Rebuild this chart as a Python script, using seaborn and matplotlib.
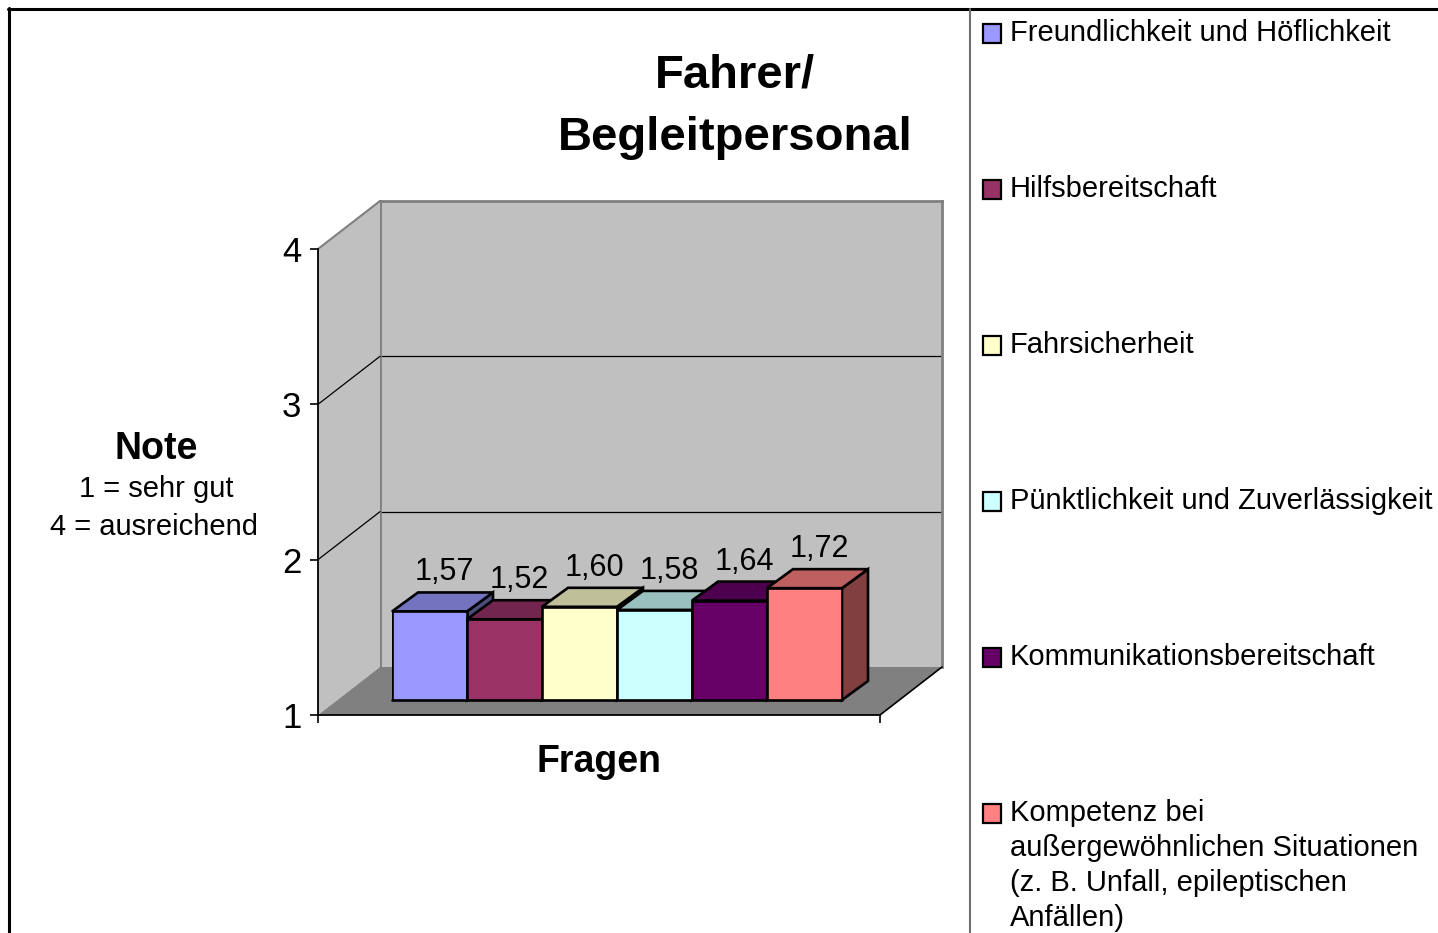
import numpy as np
import pandas as pd
import seaborn as sns
import matplotlib.pyplot as plt
from matplotlib.patches import Polygon, Rectangle
from matplotlib.lines import Line2D
from matplotlib.colors import to_rgb

# data
categories = [
    "Freundlichkeit und Höflichkeit",
    "Hilfsbereitschaft",
    "Fahrsicherheit",
    "Pünktlichkeit und Zuverlässigkeit",
    "Kommunikationsbereitschaft",
    "Kompetenz bei\naußergewöhnlichen Situationen\n(z. B. Unfall, epileptischen\nAnfällen)",
]
grades = [1.57, 1.52, 1.60, 1.58, 1.64, 1.72]
bar_colors = ["#9999FF", "#993366", "#FFFFCC", "#CCFFFF", "#660066", "#FF8080"]
y_ticks = [1, 2, 3, 4]
title_lines = ["Fahrer/", "Begleitpersonal"]
y_title = "Note"
y_notes = ["1 = sehr gut", "4 = ausreichend"]
x_title = "Fragen"

W, H = 1438, 933


def fx(px):
    return px / W


def fy(py):
    return 1 - py / H


def rect(left, top, right, bottom):
    return [fx(left), fy(bottom), (right - left) / W, (bottom - top) / H]


def shade(color, k):
    return tuple(c * k for c in to_rgb(color))


sns.set_style("white")
plt.rcParams["font.family"] = ["Liberation Sans", "DejaVu Sans"]
plt.rcParams["text.color"] = "black"
plt.rcParams["xtick.color"] = "black"
plt.rcParams["ytick.color"] = "black"
plt.rcParams["axes.labelcolor"] = "black"

fig = plt.figure(figsize=(W / 100, H / 100), dpi=100)

# back wall of the 3d box
ax_back = fig.add_axes(rect(380, 201, 942, 667))
ax_back.set_facecolor("#C0C0C0")
ax_back.set_xlim(0, 1)
ax_back.set_ylim(y_ticks[0], y_ticks[-1])
ax_back.set_xticks([])
ax_back.set_yticks(y_ticks[1:-1])
ax_back.tick_params(left=False, labelleft=False)
ax_back.yaxis.grid(True, color="black", lw=0.9)
for name, s in ax_back.spines.items():
    s.set_color("#808080")
    s.set_linewidth(2)
ax_back.spines["bottom"].set_visible(False)

# front plane with the value axis
ax_front = fig.add_axes(rect(318, 249, 880, 715))
ax_front.patch.set_visible(False)
ax_front.set_xlim(0, 1)
ax_front.set_ylim(y_ticks[0], y_ticks[-1])
ax_front.set_yticks(y_ticks)
ax_front.set_yticklabels([str(t) for t in y_ticks], fontsize=25, color="black")
ax_front.set_xticks([0, 1])
ax_front.set_xticklabels([])
ax_front.tick_params(left=True, bottom=True, direction="out", length=6,
                     width=1.2, color="black", pad=6)
ax_front.spines["top"].set_visible(False)
ax_front.spines["right"].set_visible(False)
for s in ("left", "bottom"):
    ax_front.spines[s].set_color("black")
    ax_front.spines[s].set_linewidth(1.3)

inv_front = ax_front.transData.inverted()


def fpt(x, v):
    return ax_front.transData.transform((x, v))


def bpt(x, v):
    return ax_back.transData.transform((x, v))


lo, hi = y_ticks[0], y_ticks[-1]
side = [fpt(0, hi), bpt(0, hi), bpt(0, lo), fpt(0, lo)]
ax_front.add_patch(Polygon(inv_front.transform(side), closed=True,
                           fc="#C0C0C0", ec="none", clip_on=False, zorder=1))
floor = [fpt(0, lo), bpt(0, lo), bpt(1, lo), fpt(1, lo)]
ax_front.add_patch(Polygon(inv_front.transform(floor), closed=True,
                           fc="#808080", ec="none", clip_on=False, zorder=1))
for v in y_ticks[1:]:
    pts = inv_front.transform([fpt(0, v), bpt(0, v)])
    ax_front.add_line(Line2D(pts[:, 0], pts[:, 1], clip_on=False, zorder=2,
                             color="black" if v < hi else "#808080",
                             lw=0.9 if v < hi else 1.5))
pts = inv_front.transform([fpt(1, lo), bpt(1, lo)])
ax_front.add_line(Line2D(pts[:, 0], pts[:, 1], color="black", lw=1.2,
                         clip_on=False, zorder=2))

# bars, sitting a little behind the front plane
ax_bars = fig.add_axes(rect(392, 234, 842, 700))
ax_bars.patch.set_visible(False)
df = pd.DataFrame({"Frage": categories, "Note": grades})
sns.barplot(data=df, x="Frage", y="Note", hue="Frage", palette=bar_colors,
            saturation=1, width=1.0, edgecolor="black", linewidth=1.9,
            legend=False, ax=ax_bars)
ax_bars.set_xlim(-0.5, len(categories) - 0.5)
ax_bars.set_ylim(lo, hi)
ax_bars.axis("off")

dx, dy = 26, 19  # bar depth in pixels
inv_bars = ax_bars.transData.inverted()
bars = sorted(ax_bars.patches, key=lambda p: p.get_x())
for i, (bar, val, col) in enumerate(zip(bars, grades, bar_colors)):
    x0 = bar.get_x()
    x1 = x0 + bar.get_width()
    top = bar.get_y() + bar.get_height()
    fl, fr, br = ax_bars.transData.transform([(x0, top), (x1, top), (x1, lo)])
    d = np.array([dx, dy])
    top_face = [fl, fr, fr + d, fl + d]
    side_face = [fr, br, br + d, fr + d]
    ax_bars.add_patch(Polygon(inv_bars.transform(side_face), closed=True,
                              fc=shade(col, 0.5), ec="black", lw=1.9,
                              clip_on=False, zorder=10 + 3 * i))
    ax_bars.add_patch(Polygon(inv_bars.transform(top_face), closed=True,
                              fc=shade(col, 0.75), ec="black", lw=1.9,
                              clip_on=False, zorder=11 + 3 * i))
    bar.set_zorder(12 + 3 * i)
    ax_bars.annotate(f"{val:.2f}".replace(".", ","), xy=((x0 + x1) / 2, top),
                     xytext=(15 * 0.72, 31 * 0.72), textcoords="offset points",
                     ha="center", va="baseline", fontsize=22,
                     annotation_clip=False, zorder=40)
ax_bars.axhline(lo, color="black", lw=1.9, clip_on=False, zorder=40)

# titles
fig.text(fx(735), fy(87), title_lines[0], ha="center", va="baseline",
         fontsize=34, fontweight="bold")
fig.text(fx(735), fy(150), title_lines[1], ha="center", va="baseline",
         fontsize=34, fontweight="bold")
fig.text(fx(599), fy(772), x_title, ha="center", va="baseline",
         fontsize=27, fontweight="bold")
fig.text(fx(156), fy(459), y_title, ha="center", va="baseline",
         fontsize=27, fontweight="bold")
fig.text(fx(156), fy(497), y_notes[0], ha="center", va="baseline", fontsize=21)
fig.text(fx(154), fy(535), y_notes[1], ha="center", va="baseline", fontsize=21)

# legend on the right
for i, (lab, col) in enumerate(zip(categories, bar_colors)):
    y0 = 24 + 156 * i
    fig.add_artist(Rectangle((fx(983), fy(y0 + 19)), 18 / W, 19 / H,
                             transform=fig.transFigure, fc=col, ec="black",
                             lw=1.6))
    for k, line in enumerate(lab.split("\n")):
        fig.text(fx(1010), fy(41 + 156 * i + 35 * k), line, ha="left",
                 va="baseline", fontsize=21)

# outer frame and separator
fig.add_artist(Line2D([fx(8), 1], [fy(9), fy(9)], transform=fig.transFigure,
                      color="black", lw=2.2))
fig.add_artist(Line2D([fx(9), fx(9)], [0, fy(8)], transform=fig.transFigure,
                      color="black", lw=2.2))
fig.add_artist(Line2D([fx(970), fx(970)], [0, fy(9)], transform=fig.transFigure,
                      color="#707070", lw=1.5))

fig.savefig("out.png", dpi=100)
plt.close(fig)
